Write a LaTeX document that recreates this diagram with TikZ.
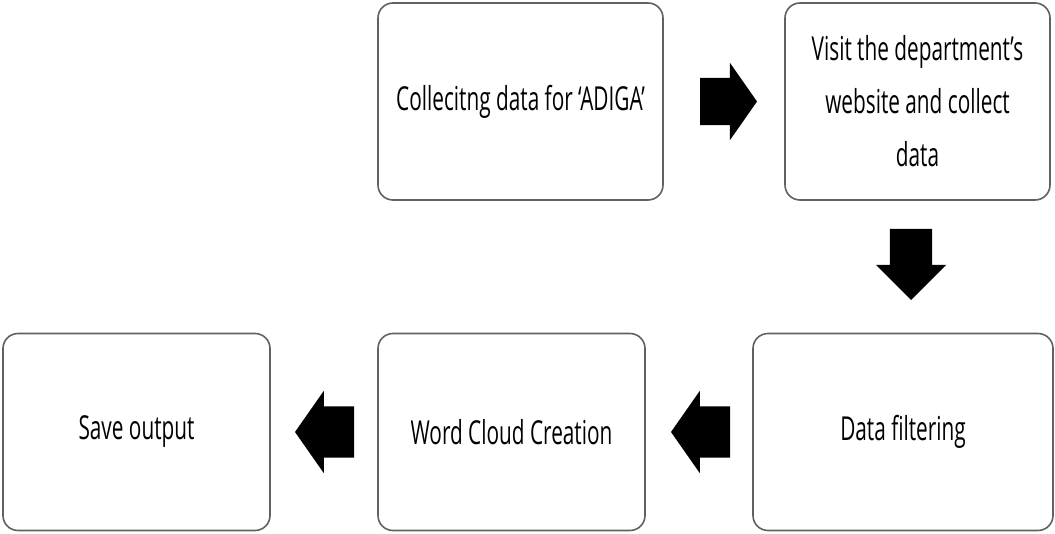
\documentclass[tikz,border=0pt]{standalone}
\usepackage{fontspec}
\setmainfont{Open Sans}[FakeStretch=0.63]
\usepackage{xcolor}
\usepackage{tikz}
\usetikzlibrary{positioning,shapes.arrows,calc}

\begin{document}
\begin{tikzpicture}[
  x=1pt, y=-1pt,
  stage/.style={draw=black!62, line width=1.6pt, rounded corners=15pt, fill=white,
    minimum height=197pt, align=center, font=\fontsize{33}{53}\selectfont, inner sep=0pt},
  flow/.style={single arrow, fill=black, draw=none, inner xsep=0pt, inner ysep=23.5pt,
    single arrow head extend=15pt, single arrow tip angle=110, minimum height=57pt, anchor=tail},
  flowwide/.style={flow, inner ysep=25.5pt, single arrow head extend=15.5pt, minimum height=59pt},
  flowdown/.style={flow, inner ysep=21pt, single arrow head extend=14pt,
    single arrow tip angle=90, minimum height=71pt, rotate=-90}
]
\useasboundingbox (0,0) rectangle (1055,534);
% top row
\node[stage, minimum width=285pt] (collect) at (520.5,101.5) {Collecitng data for ‘ADIGA’};
\node[stage, minimum width=265pt] (visit) at (917.5,101.5) {Visit the department’s\\website and collect\\data};
% bottom row
\node[stage, minimum width=300pt] (filter) at (903,432) {Data filtering};
\node[stage, minimum width=267pt] (cloud) at (511.5,432) {Word Cloud Creation};
\node[stage, minimum width=267pt] (save) at (136.5,432) {Save output};
% block arrows between the stages
\node[flow] (a1) at ($(collect.east)+(36,0)$) {};
\node[flowdown] (a2) at ($(visit.south)+(-6.5,28)$) {};
\node[flowwide, rotate=180] (a3) at ($(filter.west)+(-22,0)$) {};
\node[flowwide, rotate=180] (a4) at ($(cloud.west)+(-23,0)$) {};
\end{tikzpicture}
\end{document}
